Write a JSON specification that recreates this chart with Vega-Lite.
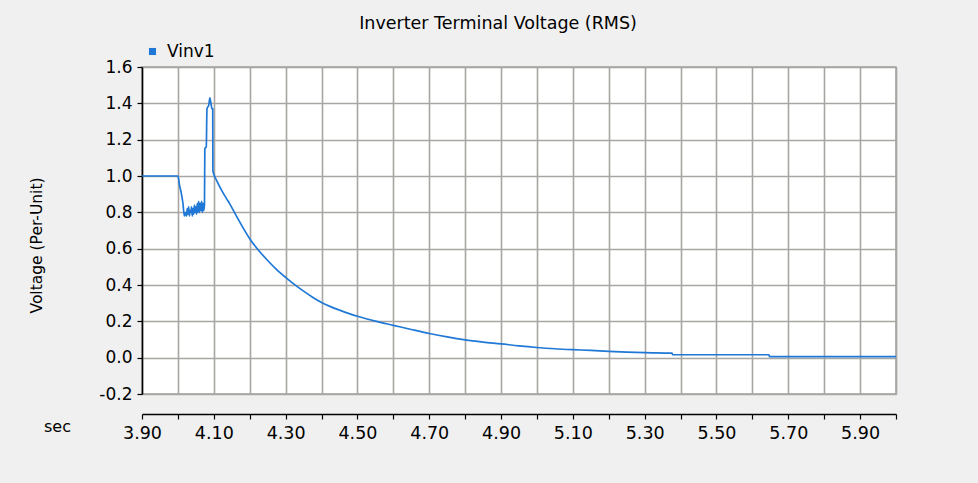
{
  "$schema": "https://vega.github.io/schema/vega-lite/v6.json",
  "width": 754,
  "height": 327,
  "autosize": {"type": "none"},
  "padding": {"left": 142, "top": 67, "right": 82, "bottom": 89},
  "background": "#f0f0f0",
  "title": {
    "text": "Inverter Terminal Voltage (RMS)",
    "anchor": "middle",
    "dx": -21,
    "offset": 11,
    "font": "DejaVu Sans",
    "fontSize": 17.5,
    "fontWeight": "normal",
    "color": "#000000"
  },
  "config": {
    "view": {"fill": "#ffffff", "stroke": "#a0a0a0", "strokeWidth": 1.5},
    "axis": {
      "labelFont": "DejaVu Sans",
      "titleFont": "DejaVu Sans",
      "labelColor": "#000000",
      "titleColor": "#000000",
      "domainColor": "#000000",
      "tickColor": "#000000",
      "gridColor": "#a8a6a2",
      "gridWidth": 1.6,
      "gridOpacity": 1
    }
  },
  "data": {
    "values": [
      {"t": 3.900, "v": 1.0, "s": "Vinv1"},
      {"t": 4.000, "v": 1.0, "s": "Vinv1"},
      {"t": 4.0045, "v": 0.95, "s": "Vinv1"},
      {"t": 4.009, "v": 0.91, "s": "Vinv1"},
      {"t": 4.014, "v": 0.85, "s": "Vinv1"},
      {"t": 4.018, "v": 0.78, "s": "Vinv1"},
      {"t": 4.021, "v": 0.80, "s": "Vinv1"},
      {"t": 4.024, "v": 0.78, "s": "Vinv1"},
      {"t": 4.026, "v": 0.82, "s": "Vinv1"},
      {"t": 4.028, "v": 0.79, "s": "Vinv1"},
      {"t": 4.030, "v": 0.83, "s": "Vinv1"},
      {"t": 4.032, "v": 0.78, "s": "Vinv1"},
      {"t": 4.034, "v": 0.81, "s": "Vinv1"},
      {"t": 4.036, "v": 0.80, "s": "Vinv1"},
      {"t": 4.038, "v": 0.83, "s": "Vinv1"},
      {"t": 4.040, "v": 0.78, "s": "Vinv1"},
      {"t": 4.042, "v": 0.82, "s": "Vinv1"},
      {"t": 4.044, "v": 0.79, "s": "Vinv1"},
      {"t": 4.046, "v": 0.84, "s": "Vinv1"},
      {"t": 4.048, "v": 0.80, "s": "Vinv1"},
      {"t": 4.050, "v": 0.83, "s": "Vinv1"},
      {"t": 4.052, "v": 0.79, "s": "Vinv1"},
      {"t": 4.054, "v": 0.85, "s": "Vinv1"},
      {"t": 4.056, "v": 0.80, "s": "Vinv1"},
      {"t": 4.058, "v": 0.86, "s": "Vinv1"},
      {"t": 4.060, "v": 0.80, "s": "Vinv1"},
      {"t": 4.062, "v": 0.85, "s": "Vinv1"},
      {"t": 4.064, "v": 0.81, "s": "Vinv1"},
      {"t": 4.066, "v": 0.86, "s": "Vinv1"},
      {"t": 4.068, "v": 0.80, "s": "Vinv1"},
      {"t": 4.070, "v": 0.85, "s": "Vinv1"},
      {"t": 4.072, "v": 0.81, "s": "Vinv1"},
      {"t": 4.074, "v": 0.84, "s": "Vinv1"},
      {"t": 4.075, "v": 1.15, "s": "Vinv1"},
      {"t": 4.079, "v": 1.16, "s": "Vinv1"},
      {"t": 4.081, "v": 1.37, "s": "Vinv1"},
      {"t": 4.086, "v": 1.39, "s": "Vinv1"},
      {"t": 4.089, "v": 1.43, "s": "Vinv1"},
      {"t": 4.092, "v": 1.40, "s": "Vinv1"},
      {"t": 4.095, "v": 1.37, "s": "Vinv1"},
      {"t": 4.097, "v": 1.37, "s": "Vinv1"},
      {"t": 4.0975, "v": 1.03, "s": "Vinv1"},
      {"t": 4.100, "v": 1.01, "s": "Vinv1"},
      {"t": 4.108, "v": 0.975, "s": "Vinv1"},
      {"t": 4.116, "v": 0.943, "s": "Vinv1"},
      {"t": 4.125, "v": 0.91, "s": "Vinv1"},
      {"t": 4.135, "v": 0.877, "s": "Vinv1"},
      {"t": 4.144, "v": 0.848, "s": "Vinv1"},
      {"t": 4.160, "v": 0.79, "s": "Vinv1"},
      {"t": 4.180, "v": 0.72, "s": "Vinv1"},
      {"t": 4.200, "v": 0.655, "s": "Vinv1"},
      {"t": 4.225, "v": 0.59, "s": "Vinv1"},
      {"t": 4.250, "v": 0.535, "s": "Vinv1"},
      {"t": 4.275, "v": 0.485, "s": "Vinv1"},
      {"t": 4.300, "v": 0.442, "s": "Vinv1"},
      {"t": 4.325, "v": 0.402, "s": "Vinv1"},
      {"t": 4.350, "v": 0.366, "s": "Vinv1"},
      {"t": 4.375, "v": 0.333, "s": "Vinv1"},
      {"t": 4.400, "v": 0.304, "s": "Vinv1"},
      {"t": 4.425, "v": 0.281, "s": "Vinv1"},
      {"t": 4.450, "v": 0.262, "s": "Vinv1"},
      {"t": 4.475, "v": 0.244, "s": "Vinv1"},
      {"t": 4.500, "v": 0.228, "s": "Vinv1"},
      {"t": 4.550, "v": 0.201, "s": "Vinv1"},
      {"t": 4.600, "v": 0.178, "s": "Vinv1"},
      {"t": 4.650, "v": 0.155, "s": "Vinv1"},
      {"t": 4.700, "v": 0.133, "s": "Vinv1"},
      {"t": 4.750, "v": 0.114, "s": "Vinv1"},
      {"t": 4.800, "v": 0.098, "s": "Vinv1"},
      {"t": 4.850, "v": 0.086, "s": "Vinv1"},
      {"t": 4.900, "v": 0.076, "s": "Vinv1"},
      {"t": 4.950, "v": 0.065, "s": "Vinv1"},
      {"t": 5.000, "v": 0.056, "s": "Vinv1"},
      {"t": 5.050, "v": 0.049, "s": "Vinv1"},
      {"t": 5.100, "v": 0.044, "s": "Vinv1"},
      {"t": 5.150, "v": 0.040, "s": "Vinv1"},
      {"t": 5.200, "v": 0.035, "s": "Vinv1"},
      {"t": 5.250, "v": 0.031, "s": "Vinv1"},
      {"t": 5.300, "v": 0.028, "s": "Vinv1"},
      {"t": 5.376, "v": 0.025, "s": "Vinv1"},
      {"t": 5.378, "v": 0.016, "s": "Vinv1"},
      {"t": 5.646, "v": 0.016, "s": "Vinv1"},
      {"t": 5.648, "v": 0.006, "s": "Vinv1"},
      {"t": 6.000, "v": 0.006, "s": "Vinv1"}
    ]
  },
  "mark": {"type": "line", "strokeWidth": 1.7, "clip": true, "interpolate": "monotone"},
  "encoding": {
    "x": {
      "field": "t",
      "type": "quantitative",
      "scale": {"domain": [3.9, 6.0], "nice": false, "zero": false},
      "axis": {
        "values": [3.9, 4.0, 4.1, 4.2, 4.3, 4.4, 4.5, 4.6, 4.7, 4.8, 4.9, 5.0, 5.1, 5.2, 5.3, 5.4, 5.5, 5.6, 5.7, 5.8, 5.9, 6.0],
        "labelExpr": "round((datum.value - 3.9) * 10) % 2 == 0 && datum.value < 5.95 ? format(datum.value, '.2f') : ''",
        "offset": 20,
        "tickSize": 5,
        "tickWidth": 1.2,
        "domainWidth": 1.5,
        "labelFontSize": 17.5,
        "labelPadding": 5,
        "labelFlush": false,
        "labelOverlap": false,
        "title": "sec",
        "titleFontSize": 16,
        "titleFontWeight": "normal",
        "titleAnchor": "start",
        "titleAlign": "center",
        "titleBaseline": "middle",
        "titleX": -85,
        "titleY": 12
      }
    },
    "y": {
      "field": "v",
      "type": "quantitative",
      "scale": {"domain": [-0.2, 1.6], "nice": false, "zero": false},
      "axis": {
        "values": [-0.2, 0.0, 0.2, 0.4, 0.6, 0.8, 1.0, 1.2, 1.4, 1.6],
        "labelExpr": "replace(format(datum.value, '.1f'), '\u2212', '-')",
        "tickSize": 5,
        "tickWidth": 1.2,
        "domainWidth": 1.5,
        "labelFontSize": 17,
        "labelPadding": 5,
        "labelFlush": false,
        "labelOverlap": false,
        "title": "Voltage (Per-Unit)",
        "titleFontSize": 15.5,
        "titleFontWeight": "normal",
        "titleAngle": -90,
        "titleAlign": "center",
        "titleBaseline": "middle",
        "titleX": -106,
        "titleY": 178
      }
    },
    "color": {
      "field": "s",
      "type": "nominal",
      "scale": {"range": ["#1f78d6"]},
      "legend": {
        "title": null,
        "orient": "none",
        "legendX": 2,
        "legendY": -24,
        "symbolType": "square",
        "symbolSize": 50,
        "symbolFillColor": "#1f78d6",
        "symbolStrokeColor": "#1f78d6",
        "symbolStrokeWidth": 0,
        "labelFont": "DejaVu Sans",
        "labelFontSize": 17,
        "labelColor": "#000000",
        "labelOffset": 6
      }
    }
  }
}
